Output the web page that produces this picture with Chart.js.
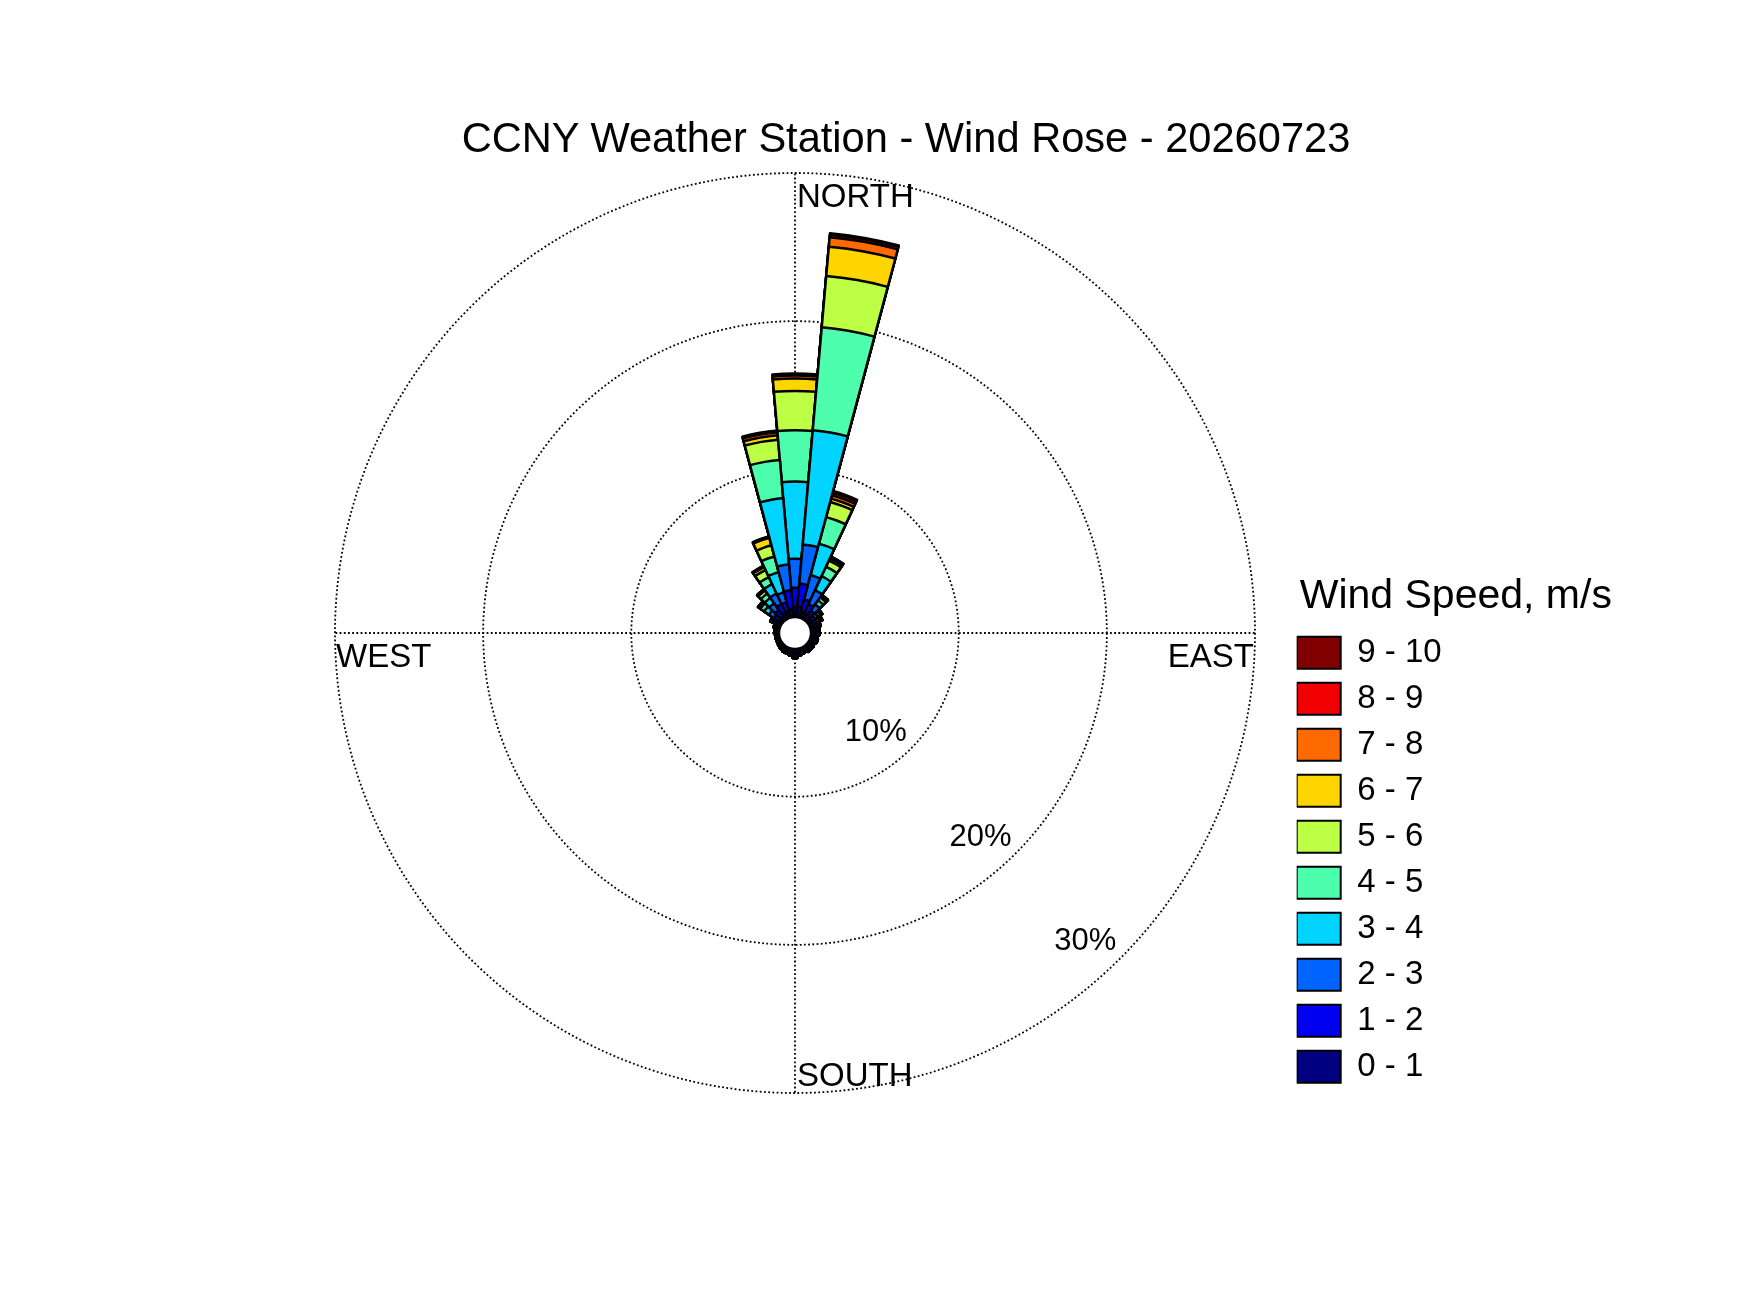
<!DOCTYPE html>
<html>
<head>
<meta charset="utf-8">
<title>CCNY Weather Station - Wind Rose</title>
<script src="https://cdn.jsdelivr.net/npm/chart.js"></script>
<style>
    body { margin: 0; background: #ffffff; }
    #wrap { position: relative; width: 1750px; height: 1313px; }
    #roseTitle {
        position: absolute;
        left: 406px;
        top: 117px;
        width: 1000px;
        text-align: center;
        font: 41.6px/42px "Liberation Sans", Arial, Helvetica, sans-serif;
        color: #000;
        white-space: nowrap;
    }
    #windRose { position: absolute; left: 0; top: 0; }
</style>
</head>
<body>
<div id="wrap">
    <canvas id="windRose" width="1750" height="1313"></canvas>
    <div id="roseTitle">CCNY Weather Station - Wind Rose - 20260723</div>
</div>
<script>
// Wind rose for the CCNY weather station

// Direction bins, 10 degrees each, starting at north and going clockwise
const directions = ['0', '10', '20', '30', '40', '50', '60', '70', '80', '90', '100', '110',
    '120', '130', '140', '150', '160', '170', '180', '190', '200', '210', '220', '230',
    '240', '250', '260', '270', '280', '290', '300', '310', '320', '330', '340', '350'];

const compassLabels = ['NORTH', 'EAST', 'SOUTH', 'WEST'];
const ringTicks = [10, 20, 30];

const legendHeading = 'Wind Speed, m/s';
const speedBins = ['0 - 1', '1 - 2', '2 - 3', '3 - 4', '4 - 5', '5 - 6', '6 - 7', '7 - 8', '8 - 9', '9 - 10'];
const binColors = ['#000080', '#0000f0', '#0064ff', '#00d4ff', '#4dffad',
    '#bcff44', '#ffd500', '#ff6a00', '#f00000', '#800000'];

// Frequency (%) of each speed bin per direction
const speed0to1 = [0.7, 0.75, 0.45, 0.45, 0.35, 0.3, 0.3, 0.3, 0.3, 0.3, 0.3, 0.3,
    0.3, 0.3, 0.3, 0.3, 0.3, 0.35, 0.4, 0.3, 0.3, 0.3, 0.3, 0.25,
    0.25, 0.25, 0.25, 0.25, 0.25, 0.25, 0.25, 0.3, 0.35, 0.45, 0.5, 0.6];
const speed1to2 = [1.3, 1.55, 0.85, 0.65, 0.45, 0.3, 0.3, 0.25, 0.2, 0.2, 0.15, 0.15,
    0.1, 0.15, 0.15, 0.1, 0.15, 0.15, 0.2, 0.2, 0.15, 0.15, 0.1, 0.1,
    0.05, 0.05, 0.05, 0.05, 0.1, 0.12, 0.2, 0.4, 0.5, 0.65, 0.6, 1.25];
const speed2to3 = [1.97, 2.65, 1.7, 1.04, 0.5, 0.25, 0.2, 0.15, 0.1, 0.1, 0.05, 0.1,
    0.05, 0.05, 0.05, 0, 0, 0, 0.05, 0, 0, 0, 0, 0,
    0, 0, 0, 0, 0, 0.05, 0.15, 0.4, 0.55, 0.78, 0.7, 1.75];
const speed3to4 = [5.2, 7.74, 2.19, 1.04, 0.35, 0.2, 0.12, 0.05, 0, 0, 0, 0,
    0, 0, 0, 0, 0, 0, 0, 0, 0, 0, 0, 0,
    0, 0, 0, 0, 0, 0.03, 0.1, 0.4, 0.45, 0.71, 1.4, 4.49];
const speed4to5 = [3.47, 6.97, 1.86, 0.71, 0.25, 0.1, 0.06, 0, 0, 0, 0, 0,
    0, 0, 0, 0, 0, 0, 0, 0, 0, 0, 0, 0,
    0, 0, 0, 0, 0, 0, 0.07, 0.3, 0.35, 0.52, 1.1, 2.59];
const speed5to6 = [2.65, 3.48, 1.05, 0.46, 0.13, 0.05, 0.02, 0, 0, 0, 0, 0,
    0, 0, 0, 0, 0, 0, 0, 0, 0, 0, 0, 0,
    0, 0, 0, 0, 0, 0, 0.03, 0.15, 0.25, 0.52, 0.78, 1.37];
const speed6to7 = [0.84, 1.98, 0.24, 0.15, 0.05, 0, 0, 0, 0, 0, 0, 0,
    0, 0, 0, 0, 0, 0, 0, 0, 0, 0, 0, 0,
    0, 0, 0, 0, 0, 0, 0, 0.05, 0.1, 0.22, 0.52, 0.3];
const speed7to8 = [0.2, 0.64, 0.23, 0.1, 0.02, 0, 0, 0, 0, 0, 0, 0,
    0, 0, 0, 0, 0, 0, 0, 0, 0, 0, 0, 0,
    0, 0, 0, 0, 0, 0, 0, 0, 0.02, 0.07, 0.06, 0.2];
const speed8to9 = [0.09, 0.17, 0.18, 0.04, 0, 0, 0, 0, 0, 0, 0, 0,
    0, 0, 0, 0, 0, 0, 0, 0, 0, 0, 0, 0,
    0, 0, 0, 0, 0, 0, 0, 0, 0, 0.03, 0.03, 0.08];
const speed9to10 = [0.05, 0.1, 0.12, 0.02, 0, 0, 0, 0, 0, 0, 0, 0,
    0, 0, 0, 0, 0, 0, 0, 0, 0, 0, 0, 0,
    0, 0, 0, 0, 0, 0, 0, 0, 0, 0.01, 0.01, 0.04];

const speedSeries = [speed0to1, speed1to2, speed2to3, speed3to4, speed4to5,
    speed5to6, speed6to7, speed7to8, speed8to9, speed9to10];

// Radial axis starts a little below zero so the rose gets its empty centre
const radialMin = -1.05;
const radialMax = 30;
const fontFamily = '"Liberation Sans", Arial, Helvetica, sans-serif';

// Polar area charts do not stack, so every bin is drawn as the running total
// and the lower bins sit on top of the higher ones
function buildDatasets() {
    const running = directions.map(() => 0);
    return speedSeries.map((values, b) => {
        values.forEach((v, i) => { running[i] += v; });
        return {
            label: speedBins[b],
            data: running.slice(),
            rAxisID: 'r',
            backgroundColor: binColors[b],
            borderColor: '#000000',
            borderWidth: 2.5,
            borderJoinStyle: 'round'
        };
    });
}

// White hole in the middle of the rose
const centreHole = {
    id: 'centreHole',
    afterDatasetsDraw(chart) {
        const r = chart.scales.r;
        const ctx = chart.ctx;
        ctx.save();
        ctx.beginPath();
        ctx.arc(r.xCenter, r.yCenter, r.getDistanceFromCenterForValue(0), 0, Math.PI * 2);
        ctx.fillStyle = '#ffffff';
        ctx.fill();
        ctx.lineWidth = 1.5;
        ctx.strokeStyle = '#000000';
        ctx.stroke();
        ctx.restore();
    }
};

// Compass names inside the outer ring, percent labels along the SE ray,
// and the legend heading (the legend box clips its own title)
const roseLabels = {
    id: 'roseLabels',
    afterDraw(chart) {
        const r = chart.scales.r;
        const compass = chart.scales.compass;
        const legend = chart.legend;
        const ctx = chart.ctx;
        const top = compass.getPointPositionForValue(0, radialMax);
        const east = compass.getPointPositionForValue(1, radialMax);
        const south = compass.getPointPositionForValue(2, radialMax);
        const west = compass.getPointPositionForValue(3, radialMax);

        ctx.save();
        ctx.fillStyle = '#000000';
        ctx.textBaseline = 'alphabetic';
        ctx.font = '33px ' + fontFamily;
        ctx.textAlign = 'left';
        ctx.fillText(compassLabels[0], top.x + 2, top.y + 34);
        ctx.fillText(compassLabels[2], south.x + 2, south.y - 7);
        ctx.fillText(compassLabels[3], west.x + 1, west.y + 34);
        ctx.textAlign = 'right';
        ctx.fillText(compassLabels[1], east.x - 1, east.y + 34);

        ctx.font = '31px ' + fontFamily;
        ringTicks.forEach(function(v) {
            const d = r.getDistanceFromCenterForValue(v) * Math.SQRT1_2;
            ctx.fillText(v + '%', r.xCenter + d - 4, r.yCenter + d - 8);
        });

        ctx.textAlign = 'left';
        ctx.textBaseline = 'middle';
        ctx.font = '41px ' + fontFamily;
        ctx.fillText(legendHeading, legend.left + 3, legend.top + 423.8);
        ctx.restore();
    }
};

Chart.defaults.font.family = fontFamily;
Chart.defaults.color = '#000000';

const ctx = document.getElementById('windRose').getContext('2d');
window.windRoseChart = new Chart(ctx, {
    type: 'polarArea',
    data: {
        labels: directions,
        datasets: buildDatasets()
    },
    options: {
        responsive: false,
        animation: false,
        events: [],
        layout: {
            padding: { left: 293.3, right: 303.3, top: 173, bottom: 220 }
        },
        scales: {
            r: {
                type: 'radialLinear',
                min: radialMin,
                max: radialMax,
                startAngle: -5,
                afterBuildTicks: function(scale) {
                    scale.ticks = ringTicks.map(v => ({ value: v }));
                },
                grid: { circular: true, color: '#000000', lineWidth: 1.8 },
                border: { dash: [1.8, 2.4] },
                angleLines: { display: false },
                pointLabels: { display: false },
                ticks: { display: false }
            },
            compass: {
                type: 'radialLinear',
                axis: 'r',
                labels: compassLabels,
                min: radialMin,
                max: radialMax,
                startAngle: 0,
                grid: { display: false },
                ticks: { display: false },
                pointLabels: { display: false },
                angleLines: {
                    display: true,
                    color: '#000000',
                    lineWidth: 1.8,
                    borderDash: [1.8, 2.4]
                }
            }
        },
        plugins: {
            tooltip: { enabled: false },
            legend: {
                position: 'right',
                align: 'start',
                reverse: true,
                maxWidth: 150,
                // empty title only reserves the space above the entries
                title: {
                    display: true,
                    text: '',
                    font: { size: 41, lineHeight: 1.1 },
                    padding: { top: 418.1, bottom: 0 }
                },
                labels: {
                    color: '#000000',
                    font: { size: 33, lineHeight: 1.394 },
                    boxWidth: 44,
                    boxHeight: 32,
                    padding: 0,
                    generateLabels: function(chart) {
                        return chart.data.datasets.map((ds, i) => ({
                            text: [ds.label],
                            fillStyle: ds.backgroundColor,
                            strokeStyle: '#000000',
                            lineWidth: 2,
                            hidden: false,
                            datasetIndex: i
                        }));
                    }
                }
            }
        }
    },
    plugins: [centreHole, roseLabels]
});
</script>
</body>
</html>
